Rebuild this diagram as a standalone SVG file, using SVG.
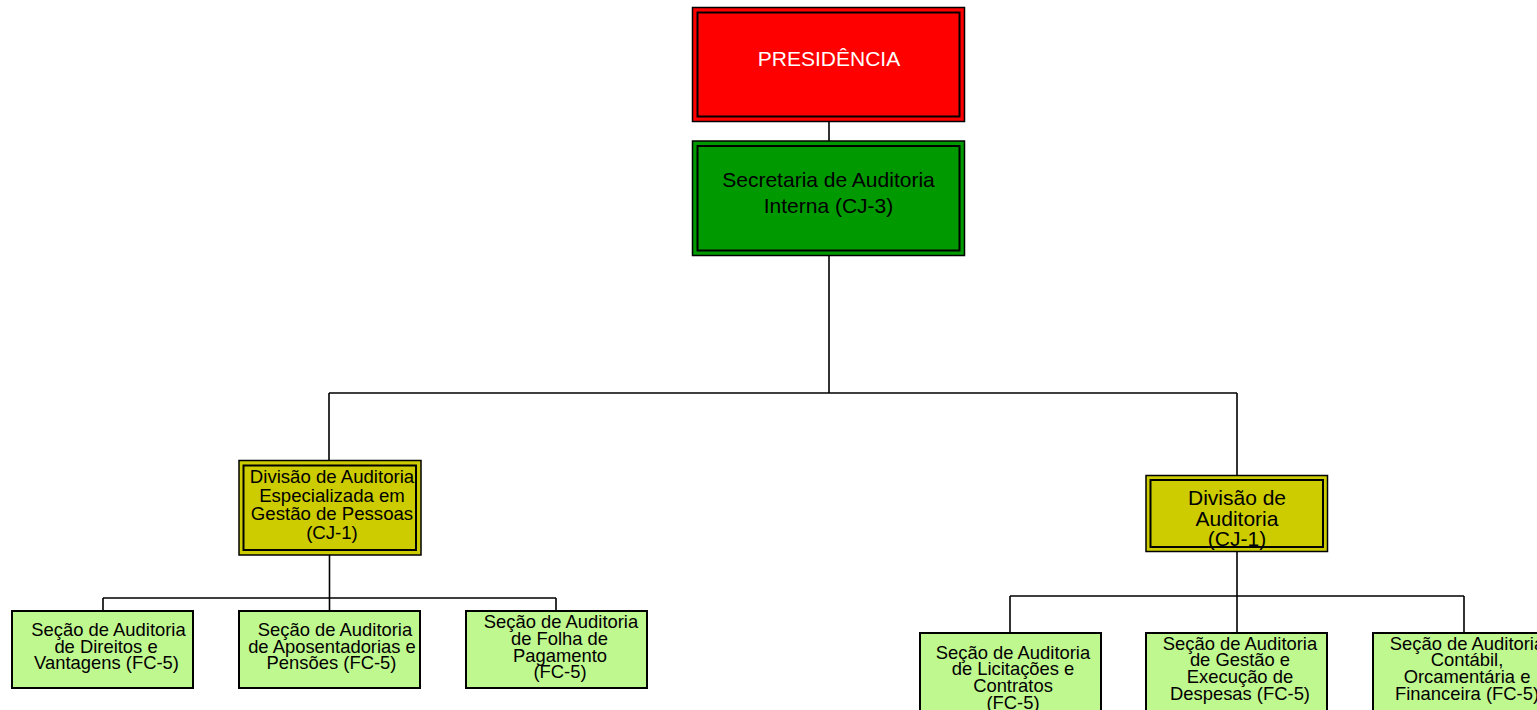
<svg xmlns="http://www.w3.org/2000/svg" width="1537" height="710" viewBox="0 0 1537 710">
<style>
text{font-family:"Liberation Sans",Arial,sans-serif;text-anchor:middle;fill:#000}
.o{stroke:#000;stroke-width:1.5}
.i{fill:none;stroke:#000;stroke-width:2}
.red{fill:#FF0000}.grn{fill:#009900}.yel{fill:#CCCC00}.lt{fill:#C0F890;stroke:#000;stroke-width:2}
.c{fill:none;stroke:#000;stroke-width:1.6}
.s{font-size:18.4px}
</style>
<rect width="1537" height="710" fill="#fff"/>
<g id="connectors">
<path class="c" d="M829,122V141M829,256V393M329,393H1237M329,393V461M1237,393V475"/>
<path class="c" d="M329.5,555V598M103,598H556M103,598V611M329.5,598V611M556,598V611"/>
<path class="c" d="M1237,551V596M1010,596H1464M1010,596V633M1237,596V633M1464,596V633"/>
</g>
<g id="presidencia">
<rect class="o red" x="692.5" y="7.5" width="272" height="114"/>
<rect class="i" x="697.5" y="12.5" width="262" height="104"/>
<text x="829" y="66" style="font-size:21px;fill:#fff">PRESIDÊNCIA</text>
</g>
<g id="secretaria">
<rect class="o grn" x="692.5" y="141" width="272" height="114.5"/>
<rect class="i" x="697.5" y="146" width="262" height="104.5"/>
<text x="828.5" y="186.5" style="font-size:21px">Secretaria de Auditoria</text>
<text x="828.5" y="212.5" style="font-size:21px">Interna (CJ-3)</text>
</g>
<g id="div-pessoas">
<rect class="o yel" x="239" y="460.5" width="182" height="94.5"/>
<rect class="i" x="243.5" y="465.5" width="172.5" height="84.5"/>
<text x="332" style="font-size:18.6px"><tspan x="332" y="483">Divisão de Auditoria</tspan><tspan x="332" y="501.5">Especializada em</tspan><tspan x="332" y="520">Gestão de Pessoas</tspan><tspan x="332" y="538.5">(CJ-1)</tspan></text>
</g>
<g id="div-auditoria">
<rect class="o yel" x="1146" y="475.5" width="181.5" height="76"/>
<rect class="i" x="1150.5" y="480" width="172.5" height="67"/>
<text x="1237" style="font-size:21px"><tspan x="1237" y="505">Divisão de</tspan><tspan x="1237" y="525.5">Auditoria</tspan><tspan x="1237" y="546">(CJ-1)</tspan></text>
</g>
<g id="secao-direitos">
<rect class="lt" x="12" y="611" width="181" height="77"/>
<text class="s"><tspan x="108.5" y="636">Seção de Auditoria</tspan><tspan x="106" y="652.7">de Direitos e</tspan><tspan x="106.5" y="669.4">Vantagens (FC-5)</tspan></text>
</g>
<g id="secao-aposentadorias">
<rect class="lt" x="239" y="611" width="181" height="77"/>
<text class="s"><tspan x="335" y="636">Seção de Auditoria</tspan><tspan x="332" y="652.7">de Aposentadorias e</tspan><tspan x="331.5" y="669.4">Pensões (FC-5)</tspan></text>
</g>
<g id="secao-folha">
<rect class="lt" x="466" y="611" width="181" height="77"/>
<text class="s"><tspan x="561" y="627.5">Seção de Auditoria</tspan><tspan x="559.5" y="644.5">de Folha de</tspan><tspan x="560" y="661.5">Pagamento</tspan><tspan x="560" y="677.5">(FC-5)</tspan></text>
</g>
<g id="secao-licitacoes">
<rect class="lt" x="920" y="633" width="181" height="80"/>
<text class="s"><tspan x="1013" y="658.5">Seção de Auditoria</tspan><tspan x="1013" y="675.2">de Licitações e</tspan><tspan x="1013" y="691.9">Contratos</tspan><tspan x="1013" y="708.6">(FC-5)</tspan></text>
</g>
<g id="secao-gestao">
<rect class="lt" x="1146" y="633" width="181" height="80"/>
<text class="s"><tspan x="1240" y="649.5">Seção de Auditoria</tspan><tspan x="1240" y="666.2">de Gestão e</tspan><tspan x="1240" y="682.9">Execução de</tspan><tspan x="1240" y="699.6">Despesas (FC-5)</tspan></text>
</g>
<g id="secao-contabil">
<rect class="lt" x="1373" y="633" width="181" height="80"/>
<text class="s"><tspan x="1467" y="649.5">Seção de Auditoria</tspan><tspan x="1467" y="666.2">Contábil,</tspan><tspan x="1467" y="682.9">Orcamentária e</tspan><tspan x="1467" y="699.6">Financeira (FC-5)</tspan></text>
</g>
</svg>
